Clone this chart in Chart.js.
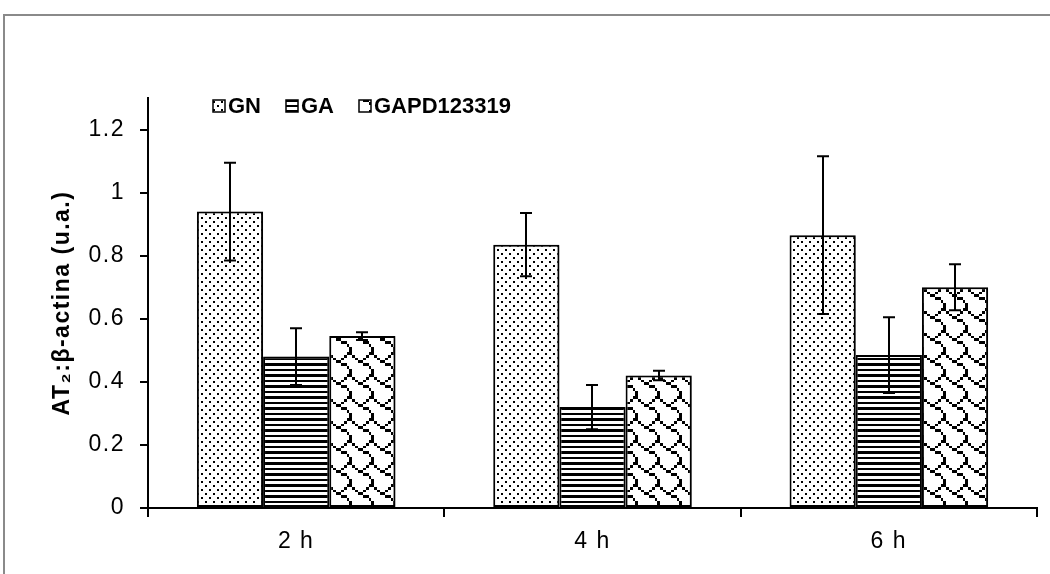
<!DOCTYPE html>
<html>
<head>
<meta charset="utf-8">
<script src="https://cdn.jsdelivr.net/npm/chart.js@4.4.1/dist/chart.umd.min.js"></script>
<style>
  html, body { margin: 0; padding: 0; background: #fff; }
  #wrap { position: relative; width: 1050px; height: 574px; overflow: hidden; }
  #frame { position: absolute; left: 3px; top: 14px; width: 1100px; height: 620px;
           border-left: 2px solid #8a8a8a; border-top: 2px solid #8a8a8a; }
  canvas { position: absolute; left: 0; top: 0; }
</style>
</head>
<body>
<div id="wrap">
  <div id="frame"></div>
  <canvas id="chart" width="1050" height="574"></canvas>
</div>
<script>
// ================= DATA =================
const categories = ["2 h", "4 h", "6 h"];
const seriesNames = ["GN", "GA", "GAPD123319"];

const gnValues = [0.94, 0.835, 0.865];
const gnErrors = [0.155, 0.1, 0.25];

const gaValues = [0.48, 0.32, 0.485];
const gaErrors = [0.09, 0.07, 0.12];

const gapdValues = [0.545, 0.42, 0.70];
const gapdErrors = [0.012, 0.015, 0.073];

const yTicks = [0, 0.2, 0.4, 0.6, 0.8, 1, 1.2];

const FONT = "'Liberation Sans', Arial, sans-serif";

// ================= PATTERNS =================
const ctx = document.getElementById("chart").getContext("2d");

// 8x8 bitmap (like the office fill patterns), scaled up by "cell"
function bitmapPattern(rows, cell) {
  const size = Math.round(8 * cell);
  const c = document.createElement("canvas");
  c.width = size;
  c.height = size;
  const g = c.getContext("2d");
  g.fillStyle = "#fff";
  g.fillRect(0, 0, size, size);
  g.fillStyle = "#000";
  rows.forEach((bits, r) => {
    for (let col = 0; col < 8; col++) {
      if (bits & (0x80 >> col)) {
        const x0 = Math.round(col * cell), x1 = Math.round((col + 1) * cell);
        const y0 = Math.round(r * cell), y1 = Math.round((r + 1) * cell);
        g.fillRect(x0, y0, x1 - x0, y1 - y0);
      }
    }
  });
  return ctx.createPattern(c, "repeat");
}

function dotPattern() {
  const c = document.createElement("canvas");
  c.width = 8;
  c.height = 8;
  const g = c.getContext("2d");
  g.fillStyle = "#fff";
  g.fillRect(0, 0, 8, 8);
  g.fillStyle = "#000";
  g.fillRect(1, 1, 2, 2);
  g.fillRect(5, 5, 2, 2);
  return ctx.createPattern(c, "repeat");
}

const patterns = [
  dotPattern(),
  bitmapPattern([0xff, 0x00, 0xff, 0x00, 0xff, 0x00, 0xff, 0x00], 2.75),
  bitmapPattern([0x03, 0x84, 0x48, 0x30, 0x0c, 0x02, 0x01, 0x01], 2.75),
];

// legend uses a condensed bold face if there is one
function legendFont(c) {
  c.font = "bold 26px 'Liberation Sans Narrow'";
  if (c.measureText("GAPD123319").width < 150) return c.font;
  return "bold 22px " + FONT;
}

// ================= PLUGINS =================
const errorSets = [gnErrors, gaErrors, gapdErrors];

// text in the original is spread a little wider than plain Arial
const spacing = {
  id: "spacing",
  beforeDraw(chart) {
    chart.ctx.letterSpacing = "1.5px";
  },
};

// soft shadow behind the bars
const barShadow = {
  id: "barShadow",
  beforeDatasetsDraw(chart) {
    const c = chart.ctx;
    c.save();
    c.shadowColor = "rgba(0,0,0,0.28)";
    c.shadowBlur = 3;
    c.shadowOffsetX = 2;
    c.shadowOffsetY = 1;
  },
  afterDatasetsDraw(chart) {
    chart.ctx.restore();
  },
};

const errorBars = {
  id: "errorBars",
  afterDatasetsDraw(chart) {
    const c = chart.ctx;
    const y = chart.scales.y;
    c.save();
    c.strokeStyle = "#000";
    c.lineWidth = 2;
    chart.data.datasets.forEach((ds, i) => {
      const meta = chart.getDatasetMeta(i);
      meta.data.forEach((bar, j) => {
        const v = ds.data[j];
        const e = errorSets[i][j];
        const top = y.getPixelForValue(v + e);
        const bot = y.getPixelForValue(v - e);
        const x = Math.round(bar.x);
        c.beginPath();
        c.moveTo(x, top);
        c.lineTo(x, bot);
        c.moveTo(x - 6, top);
        c.lineTo(x + 6, top);
        c.moveTo(x - 6, bot);
        c.lineTo(x + 6, bot);
        c.stroke();
      });
    });
    c.restore();
  },
};

const legendBoxes = {
  id: "legendBoxes",
  afterDraw(chart) {
    const c = chart.ctx;
    c.save();
    c.letterSpacing = "0px";
    c.font = legendFont(c);
    c.textBaseline = "middle";
    let x = 213;
    const yMid = 106;
    chart.data.datasets.forEach((ds) => {
      c.fillStyle = ds.backgroundColor;
      c.fillRect(x, yMid - 6, 12, 12);
      c.strokeStyle = "#000";
      c.lineWidth = 1.5;
      c.strokeRect(x, yMid - 6, 12, 12);
      c.fillStyle = "#000";
      c.fillText(ds.label, x + 15, yMid + 1);
      x += 15 + c.measureText(ds.label).width + 25;
    });
    c.restore();
  },
};

// ================= CHART =================
const valueSets = [gnValues, gaValues, gapdValues];

new Chart(ctx, {
  type: "bar",
  data: {
    labels: categories,
    datasets: seriesNames.map((name, i) => ({
      label: name,
      data: valueSets[i],
      backgroundColor: patterns[i],
      borderColor: "#000",
      borderWidth: 2,
      borderSkipped: false,
      categoryPercentage: 0.67,
      barPercentage: 1,
    })),
  },
  options: {
    responsive: false,
    animation: false,
    layout: { padding: { top: 98, right: 13, left: 0, bottom: 0 } },
    plugins: {
      legend: { display: false },
      tooltip: { enabled: false },
    },
    scales: {
      x: {
        grid: {
          drawOnChartArea: false,
          drawTicks: true,
          tickLength: 9,
          color: "#000",
          lineWidth: 2,
          offset: true,
        },
        border: { color: "#000", width: 2 },
        ticks: { color: "#000", font: { family: FONT, size: 23 }, padding: 11, maxRotation: 0 },
        afterFit: (s) => { s.height = 66; },
      },
      y: {
        min: 0,
        max: 1.3,
        afterBuildTicks: (s) => { s.ticks = yTicks.map((v) => ({ value: v })); },
        grid: { drawOnChartArea: false, tickLength: 8, color: "#000", lineWidth: 2 },
        border: { color: "#000", width: 2 },
        ticks: {
          color: "#000",
          font: { family: FONT, size: 23 },
          padding: 15,
          callback: (v) => String(v),
        },
        title: {
          display: true,
          text: "AT\u2082:\u03b2-actina (u.a.)",
          color: "#000",
          font: { family: FONT, size: 23, weight: "bold" },
          padding: { top: 49, bottom: 0 },
        },
        afterFit: (s) => { s.width = 148; },
      },
    },
  },
  plugins: [spacing, barShadow, errorBars, legendBoxes],
});
</script>
</body>
</html>
